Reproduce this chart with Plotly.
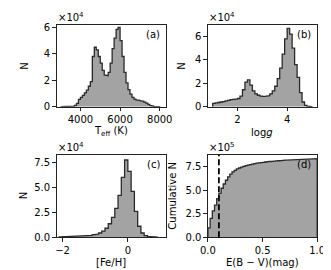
import numpy as np
import plotly.graph_objects as go
from plotly.subplots import make_subplots

# (a) Teff histogram, 100 K bins starting at 3000 K
teff_edges = np.arange(3000, 8001, 100)
teff_counts = [50, 60, 80, 100, 150, 250, 500, 1000, 2500, 5500,
               7000, 8500, 10500, 12500, 15500, 19000, 38000, 45000, 43000, 38000,
               33000, 27500, 24000, 23500, 26000, 33000, 44000, 52000, 58500, 60000,
               50000, 38000, 26000, 18000, 13000, 9500, 7000, 5800, 5200, 4800,
               4500, 4000, 3500, 2700, 1800, 900, 400, 200, 100, 50]

# (b) logg histogram, 0.1 dex bins starting at 1.0
logg_edges = np.round(np.arange(1.0, 5.01, 0.1), 2)
logg_counts = [2800, 3200, 3600, 4000, 4400, 4900, 5400, 6000, 6300, 6500,
               7000, 9000, 14500, 21000, 23000, 18500, 13500, 11000, 9800, 9000,
               8800, 8900, 9500, 11000, 13500, 17500, 24000, 33000, 45000, 58000,
               67000, 62000, 50000, 36000, 25000, 12000, 4000, 1200, 400, 100]

# (c) [Fe/H] histogram, 0.1 dex bins starting at -2.1
feh_edges = np.round(np.arange(-2.1, 0.91, 0.1), 2)
feh_counts = [300, 600, 700, 800, 900, 1000, 1100, 1300, 1500, 1800,
              2300, 3000, 4200, 6000, 9000, 13500, 20000, 29000, 42000, 60000,
              77500, 66000, 46000, 26000, 11000, 4200, 1500, 700, 300, 100]

# (d) E(B-V) counts, 0.02 mag bins, shown cumulatively
ebv_edges = np.round(np.arange(0, 1.001, 0.02), 3)
ebv_counts = [100000, 100000, 80000, 60000, 70000, 55000, 55000, 45000, 40000, 35000,
              30000, 25000, 15000, 15000, 10000, 10000, 8000, 7000, 6000, 6000,
              5000, 5000, 4000, 4000, 3000, 3000, 3000, 3000, 2000, 2000,
              2000, 2000, 2000, 2000, 2000, 2000, 1000, 2000, 1000, 2000,
              1000, 2000, 1000, 1000, 1000, 1000, 1000, 1000, 1000, 1000]
ebv_cut = 0.1

# tick labels
ticks_1e4 = [0, 2, 4, 6]
ticks_25 = [0.0, 2.5, 5.0, 7.5]

FONT = dict(family="DejaVu Sans", size=10, color="black")
FILL = "#a3a3a3"
EDGE = "#2a2a2a"


def step(edges, counts):
    xs = np.repeat(edges, 2)
    ys = np.concatenate([[0], np.repeat(counts, 2), [0]])
    return xs, ys


fig = make_subplots(rows=2, cols=2)

panels = [
    (teff_edges, np.array(teff_counts), 1, 1),
    (logg_edges, np.array(logg_counts), 1, 2),
    (feh_edges, np.array(feh_counts), 2, 1),
    (ebv_edges, np.cumsum(ebv_counts), 2, 2),
]
for edges, counts, r, c in panels:
    xs, ys = step(edges, counts)
    fig.add_trace(go.Scatter(x=xs, y=ys, mode="lines", fill="tozeroy",
                             fillcolor=FILL, line=dict(color=EDGE, width=1.3),
                             showlegend=False), row=r, col=c)

W, H = 331, 270
xd_left = [42.7 / W, 157.7 / W]
xd_right = [201.7 / W, 316.5 / W]
yd_top = [1 - 99 / H, 1 - 14.3 / H]
yd_bot = [1 - 234 / H, 1 - 149 / H]

axis_style = dict(showline=True, mirror=True, linecolor="#222", linewidth=1,
                  ticks="outside", ticklen=3.5, tickwidth=0.8, tickcolor="#222",
                  showgrid=False, zeroline=False, tickfont=FONT)

fig.update_xaxes(**axis_style)
fig.update_yaxes(**axis_style)

fig.update_layout(
    xaxis=dict(domain=xd_left, range=[2800, 8320], tickvals=[4000, 6000, 8000]),
    yaxis=dict(domain=yd_top, range=[0, 6.2e4],
               tickvals=[v * 1e4 for v in ticks_1e4], ticktext=[str(v) for v in ticks_1e4]),
    xaxis2=dict(domain=xd_right, range=[0.81, 5.21], tickvals=[2, 4]),
    yaxis2=dict(domain=yd_top, range=[0, 7.0e4],
                tickvals=[v * 1e4 for v in ticks_1e4], ticktext=[str(v) for v in ticks_1e4]),
    xaxis3=dict(domain=xd_left, range=[-2.18, 1.17], tickvals=[-2, 0],
                ticktext=["\u22122", "0"]),
    yaxis3=dict(domain=yd_bot, range=[0, 8.25e4],
                tickvals=[v * 1e4 for v in ticks_25], ticktext=["%.1f" % v for v in ticks_25]),
    xaxis4=dict(domain=xd_right, range=[0, 1], tickvals=[0, 0.5, 1.0],
                ticktext=["0.0", "0.5", "1.0"]),
    yaxis4=dict(domain=yd_bot, range=[0, 8.73e5],
                tickvals=[v * 1e5 for v in ticks_25], ticktext=["%.1f" % v for v in ticks_25]),
)

fig.add_shape(type="line", xref="x4", yref="y4 domain", x0=ebv_cut, x1=ebv_cut,
              y0=0, y1=1, line=dict(color="black", width=1.8, dash="6px,3px"))


def note(x, y, text, angle=0, xanchor="center"):
    fig.add_annotation(x=x / W, y=1 - y / H, xref="paper", yref="paper", text=text,
                       showarrow=False, textangle=angle, font=FONT,
                       xanchor=xanchor, yanchor="middle")


# axis titles
note(100, 125, "T<sub>eff</sub> (K)")
note(259, 126, "log<i>g</i>")
note(100, 260, "[Fe/H]")
note(259, 260, "E(B \u2212 V)(mag)")
note(8, 57, "N", angle=-90)
note(174, 57, "N", angle=-90)
note(8, 191, "N", angle=-90)
note(165, 191, "Cumulative N", angle=-90)

# offset multipliers
note(42, 6, "\u00d710<sup>4</sup>", xanchor="left")
note(201, 6, "\u00d710<sup>4</sup>", xanchor="left")
note(42, 141, "\u00d710<sup>4</sup>", xanchor="left")
note(201, 141, "\u00d710<sup>5</sup>", xanchor="left")

# panel labels
note(153, 24, "(a)", xanchor="right")
note(312, 24, "(b)", xanchor="right")
note(153, 159, "(c)", xanchor="right")
note(312, 159, "(d)", xanchor="right")

fig.update_layout(width=W, height=H, margin=dict(l=0, r=0, t=0, b=0),
                  paper_bgcolor="white", plot_bgcolor="white", font=FONT)

fig.write_html("out.html")
